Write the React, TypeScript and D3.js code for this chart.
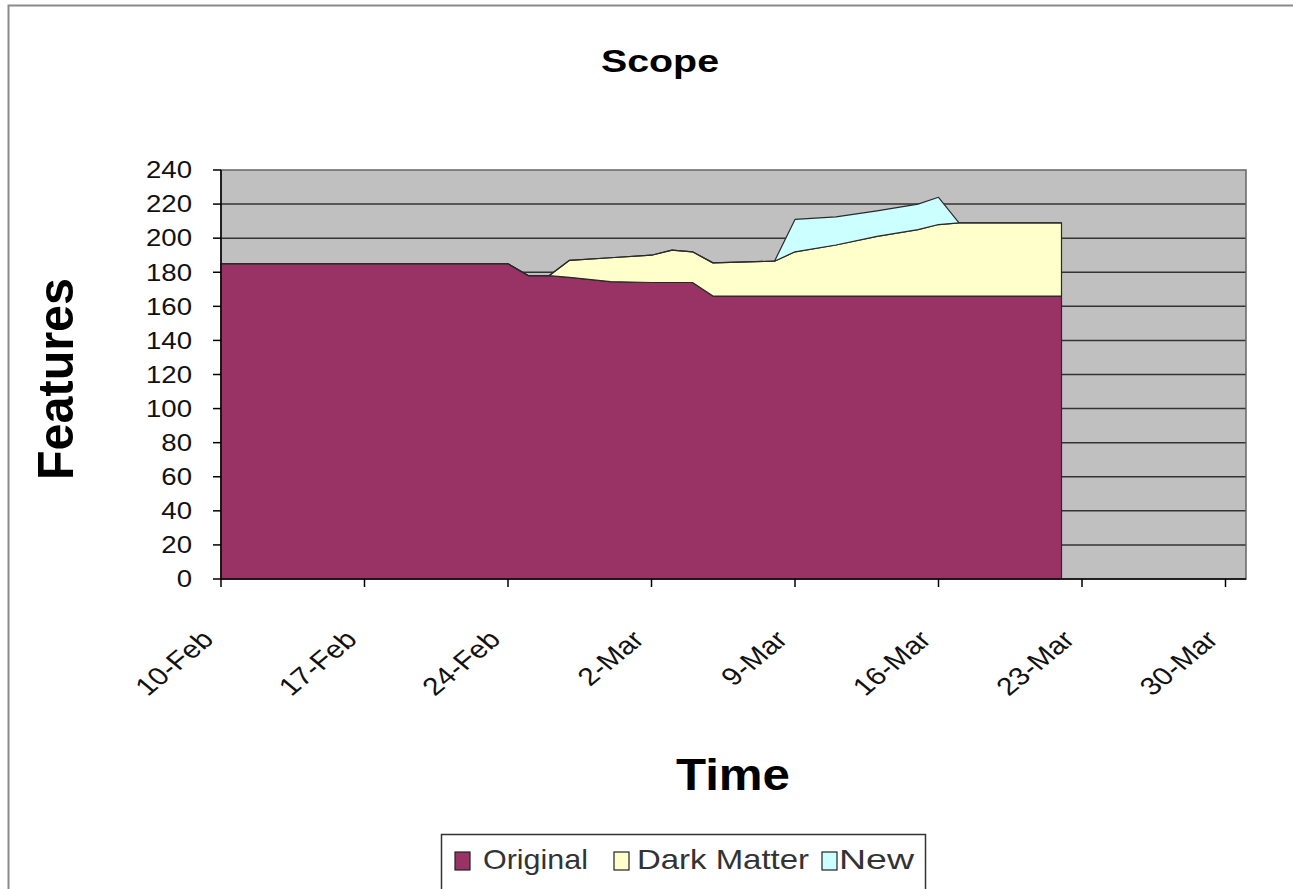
import React from "react";
import * as d3 from "d3";

// ---- data ----
const dates = [
  "2004-02-10", "2004-02-24", "2004-02-25", "2004-02-26", "2004-02-27",
  "2004-02-29", "2004-03-02", "2004-03-03", "2004-03-04", "2004-03-05",
  "2004-03-08", "2004-03-09", "2004-03-11", "2004-03-13", "2004-03-15",
  "2004-03-16", "2004-03-17", "2004-03-22",
];
const original = [185, 185, 178, 178, 177, 174.5, 174, 174, 174, 166, 166, 166, 166, 166, 166, 166, 166, 166];
const darkMatter = [0, 0, 0, 0, 10, 14, 16, 19, 18, 19.5, 20.5, 26, 30, 35, 39, 42, 43, 43];
const newFeatures = [0, 0, 0, 0, 0, 0, 0, 0, 0, 0, 0, 19, 16.5, 15, 15, 16, 0, 0];

const seriesKeys = ["Original", "Dark Matter", "New"];
const seriesColors = ["#993366", "#FFFFCC", "#CCFFFF"];

const xTickDates = [
  "2004-02-10", "2004-02-17", "2004-02-24", "2004-03-02",
  "2004-03-09", "2004-03-16", "2004-03-23", "2004-03-30",
];
const xDomain = ["2004-02-10", "2004-03-31"];
const yTicks = [0, 20, 40, 60, 80, 100, 120, 140, 160, 180, 200, 220, 240];

const chartTitle = "Scope";
const xTitle = "Time";
const yTitle = "Features";

// ---- layout ----
const W = 1293;
const H = 889;
const plot = { left: 221, right: 1246, top: 170, bottom: 579 };
const FONT = "'Liberation Sans', Arial, Helvetica, sans-serif";
const SX = 1.2; // horizontal stretch seen in the reference

const parse = d3.utcParse("%Y-%m-%d");
const fmt = d3.utcFormat("%-d-%b");

export default function App() {
  const x = d3
    .scaleUtc()
    .domain(xDomain.map((d) => parse(d) as Date))
    .range([plot.left, plot.right]);
  const y = d3.scaleLinear().domain([0, 240]).range([plot.bottom, plot.top]);

  const table = dates.map((d, i) => ({
    date: parse(d) as Date,
    Original: original[i],
    "Dark Matter": darkMatter[i],
    New: newFeatures[i],
  }));
  const stacked = d3.stack<any>().keys(seriesKeys)(table);
  const area = d3
    .area<any>()
    .x((d) => x(d.data.date))
    .y0((d) => y(d[0]))
    .y1((d) => y(d[1]));

  const legendItems = [
    { swatchX: 455, textX: 483, textW: 105 },
    { swatchX: 614, textX: 637, textW: 172 },
    { swatchX: 822, textX: 839, textW: 75 },
  ];

  return (
    <svg
      width={W}
      height={H}
      style={{ position: "absolute", left: 0, top: 0, background: "#fff" }}
      fontFamily={FONT}
    >
      {/* chart area frame */}
      <rect x={8.5} y={5.5} width={1300} height={900} fill="#fff" stroke="#8a8a8a" strokeWidth={2} />

      {/* title */}
      <text
        x={660}
        y={72}
        textAnchor="middle"
        fontWeight="bold"
        fontSize={32}
        textLength={118}
        lengthAdjust="spacingAndGlyphs"
        fill="#000"
      >
        {chartTitle}
      </text>

      {/* plot background */}
      <rect
        x={plot.left}
        y={plot.top}
        width={plot.right - plot.left}
        height={plot.bottom - plot.top}
        fill="#C0C0C0"
      />

      {/* gridlines */}
      {yTicks
        .filter((t) => t > 0 && t < 240)
        .map((t) => (
          <line
            key={"g" + t}
            x1={plot.left}
            x2={plot.right}
            y1={y(t)}
            y2={y(t)}
            stroke="#333"
            strokeWidth={1.5}
          />
        ))}

      {/* stacked areas */}
      {stacked.map((s, i) => (
        <path
          key={s.key}
          d={area(s) || ""}
          fill={seriesColors[i]}
          stroke="#2a2a2a"
          strokeWidth={1.2}
          strokeLinejoin="round"
        />
      ))}

      {/* plot border */}
      <rect
        x={plot.left}
        y={plot.top}
        width={plot.right - plot.left}
        height={plot.bottom - plot.top}
        fill="none"
        stroke="#666"
        strokeWidth={1.5}
      />

      {/* y axis */}
      <line x1={plot.left} x2={plot.left} y1={plot.top} y2={plot.bottom} stroke="#000" strokeWidth={1.5} />
      {yTicks.map((t) => (
        <g key={"y" + t}>
          <line x1={plot.left - 8} x2={plot.left} y1={y(t)} y2={y(t)} stroke="#000" strokeWidth={1.5} />
          <text
            transform={`translate(192,${y(t)}) scale(${SX},1)`}
            dy="0.36em"
            textAnchor="end"
            fontSize={23}
            fill="#111"
          >
            {t}
          </text>
        </g>
      ))}

      {/* x axis */}
      <line x1={plot.left} x2={plot.right} y1={plot.bottom} y2={plot.bottom} stroke="#000" strokeWidth={1.5} />
      {xTickDates.map((ds) => {
        const d = parse(ds) as Date;
        const tx = x(d);
        return (
          <g key={ds}>
            <line x1={tx} x2={tx} y1={plot.bottom} y2={plot.bottom + 8} stroke="#000" strokeWidth={1.5} />
            <text
              transform={`translate(${tx - 6},641) scale(${SX},1) rotate(-45)`}
              textAnchor="end"
              fontSize={25}
              fill="#111"
            >
              {fmt(d)}
            </text>
          </g>
        );
      })}

      {/* axis titles */}
      <text
        x={733}
        y={790}
        textAnchor="middle"
        fontWeight="bold"
        fontSize={44}
        textLength={114}
        lengthAdjust="spacingAndGlyphs"
        fill="#000"
      >
        {xTitle}
      </text>
      <text
        transform={`translate(73,379) scale(${SX},1) rotate(-90)`}
        textAnchor="middle"
        fontWeight="bold"
        fontSize={41}
        textLength={202}
        lengthAdjust="spacingAndGlyphs"
        fill="#000"
      >
        {yTitle}
      </text>

      {/* legend */}
      <rect x={441.5} y={834.5} width={484} height={80} fill="#fff" stroke="#333" strokeWidth={1.5} />
      {seriesKeys.map((k, i) => (
        <g key={"l" + k}>
          <rect
            x={legendItems[i].swatchX}
            y={852}
            width={15}
            height={18}
            fill={seriesColors[i]}
            stroke="#222"
            strokeWidth={1.2}
          />
          <text
            x={legendItems[i].textX}
            y={869}
            fontSize={28}
            textLength={legendItems[i].textW}
            lengthAdjust="spacingAndGlyphs"
            fill="#333"
          >
            {k}
          </text>
        </g>
      ))}
    </svg>
  );
}
